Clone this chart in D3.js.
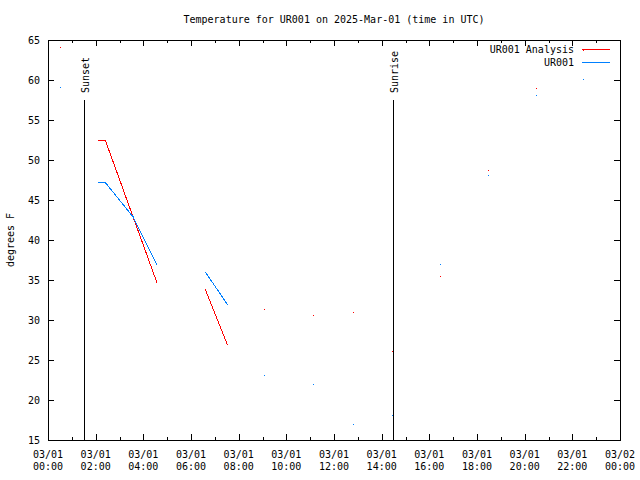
<!DOCTYPE html>
<html>
<head>
<meta charset="utf-8">
<script src="https://cdn.jsdelivr.net/npm/d3@7"></script>
<style>
html,body{margin:0;padding:0;background:#fff;}
svg{display:block;}
text{font-family:"DejaVu Sans Mono",monospace;font-size:10px;fill:#000;}
</style>
</head>
<body>
<svg id="chart" width="640" height="480"></svg>
<script>
// ---- data ----
const titleText = "Temperature for UR001 on 2025-Mar-01 (time in UTC)";
const yLabel = "degrees F";
const day = "2025-03-01";
const xStart = "2025-03-01T00:00:00Z";
const xEnd = "2025-03-02T00:00:00Z";
const yTicks = [15, 20, 25, 30, 35, 40, 45, 50, 55, 60, 65];

const seriesNames = ["UR001 Analysis", "UR001"];
const seriesColors = ["#ff0000", "#0080ff"];

const analysisTimes = ["00:31","01:00","02:08","02:24","04:34","05:30","06:36","07:31","08:00","09:05","10:00","11:08","12:00","12:49","13:30","14:27","15:30","16:28","17:30","18:29","19:30","20:29","21:30","22:28"];
const analysisTemps = [64.1,null,52.5,52.5,34.7,null,33.8,27.0,null,31.3,null,30.5,null,31.0,null,26.1,null,35.5,null,48.7,null,59.0,null,63.7];

const obsTimes = ["00:31","01:00","02:08","02:24","03:34","04:34","05:30","06:36","07:31","08:00","09:05","10:00","11:08","12:00","12:49","13:30","14:27","15:30","16:28","17:30","18:29","19:30","20:29","21:30","22:28"];
const obsTemps = [59.1,null,47.2,47.2,42.9,36.9,null,36.0,32.0,null,23.0,null,22.0,null,17.0,null,18.0,null,37.0,null,48.1,null,58.1,null,60.1];

const eventNames = ["Sunset", "Sunrise"];
const eventTimes = ["01:31", "14:28"];
const eventTopTemp = 57.5;

// ---- drawing ----
const svg = d3.select("#chart");
const L = 48, R = 620, T = 40, B = 440;
const parse = t => new Date(day + "T" + t + ":00Z");
const x = d3.scaleUtc().domain([new Date(xStart), new Date(xEnd)]).range([L, R]);
const y = d3.scaleLinear().domain([15, 65]).range([B, T]);

const g = svg.append("g");

// ticks (gnuplot style: inward, mirrored)
const hours = d3.utcHour.every(1).range(new Date(xStart), new Date(new Date(xEnd).getTime() + 1));
hours.forEach(h => {
  const major = h.getUTCHours() % 2 === 0;
  const len = major ? 6 : 3;
  const px = Math.round(x(h)) + 0.5;
  g.append("line").attr("x1", px).attr("x2", px).attr("y1", B).attr("y2", B - len)
    .attr("stroke", "#000").attr("shape-rendering", "crispEdges");
  g.append("line").attr("x1", px).attr("x2", px).attr("y1", T).attr("y2", T + len)
    .attr("stroke", "#000").attr("shape-rendering", "crispEdges");
});
const xMajors = hours.filter(h => h.getUTCHours() % 2 === 0);
const fmtDate = d3.utcFormat("%m/%d"), fmtTime = d3.utcFormat("%H:%M");
xMajors.forEach(h => {
  const t = g.append("text").attr("x", x(h)).attr("text-anchor", "middle");
  t.append("tspan").attr("x", x(h)).attr("y", 458).text(fmtDate(h));
  t.append("tspan").attr("x", x(h)).attr("y", 470).text(fmtTime(h));
});

yTicks.forEach(v => {
  const py = Math.round(y(v)) + 0.5;
  g.append("line").attr("x1", L).attr("x2", L + 6).attr("y1", py).attr("y2", py)
    .attr("stroke", "#000").attr("shape-rendering", "crispEdges");
  g.append("line").attr("x1", R).attr("x2", R - 6).attr("y1", py).attr("y2", py)
    .attr("stroke", "#000").attr("shape-rendering", "crispEdges");
  g.append("text").attr("x", 40).attr("y", y(v) + 4).attr("text-anchor", "end").text(v);
});

// border
g.append("rect").attr("x", L + 0.5).attr("y", T + 0.5).attr("width", R - L).attr("height", B - T)
  .attr("fill", "none").attr("stroke", "#000").attr("shape-rendering", "crispEdges");

// events
eventNames.forEach((name, i) => {
  const px = Math.round(x(parse(eventTimes[i]))) + 0.5;
  g.append("line").attr("x1", px).attr("x2", px).attr("y1", y(eventTopTemp)).attr("y2", B)
    .attr("stroke", "#000").attr("shape-rendering", "crispEdges");
  g.append("text").attr("transform", `translate(${px + 4},${y(eventTopTemp) - 7}) rotate(-90)`)
    .attr("text-anchor", "start").text(name);
});

// series
const series = [
  {times: analysisTimes, temps: analysisTemps},
  {times: obsTimes, temps: obsTemps}
];
series.forEach((s, si) => {
  const pts = s.times.map((t, i) => ({t: parse(t), v: s.temps[i]}));
  const line = d3.line().defined(d => d.v !== null).x(d => x(d.t)).y(d => y(d.v));
  g.append("path").attr("d", line(pts)).attr("fill", "none")
    .attr("stroke", seriesColors[si]).attr("stroke-width", 1).attr("shape-rendering", "crispEdges");
  pts.filter(d => d.v !== null).forEach(d => {
    g.append("rect").attr("x", Math.floor(x(d.t))).attr("y", Math.floor(y(d.v)))
      .attr("width", 1).attr("height", 1).attr("fill", seriesColors[si]);
  });
});

// legend
seriesNames.forEach((n, i) => {
  const ly = 49 + i * 13;
  g.append("text").attr("x", 574).attr("y", ly + 4).attr("text-anchor", "end").text(n);
  g.append("line").attr("x1", 582).attr("x2", 610).attr("y1", ly + 0.5).attr("y2", ly + 0.5)
    .attr("stroke", seriesColors[i]).attr("shape-rendering", "crispEdges");
});

// title & y label
svg.append("text").attr("x", 334).attr("y", 23).attr("text-anchor", "middle").text(titleText);
svg.append("text").attr("transform", "translate(14,240) rotate(-90)").attr("text-anchor", "middle").text(yLabel);
</script>
</body>
</html>
